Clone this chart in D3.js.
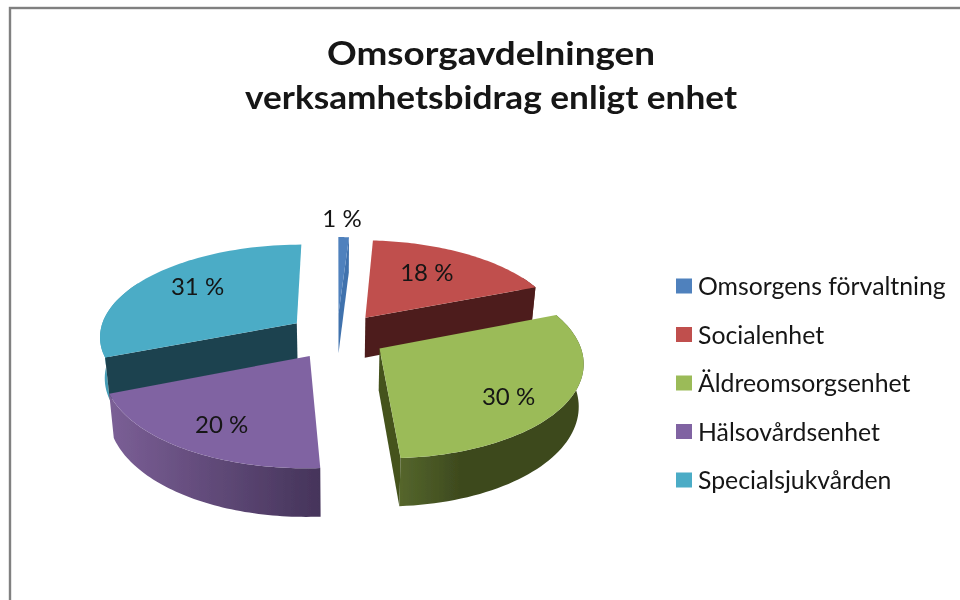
<!DOCTYPE html>
<html><head><meta charset="utf-8">
<script src="https://cdnjs.cloudflare.com/ajax/libs/d3/7.8.5/d3.min.js"></script>
<style>html,body{margin:0;padding:0;background:#fff}svg{display:block}text{font-family:Lato,"Open Sans",sans-serif;fill:#141414}</style>
</head><body><svg id="c" width="960" height="600"></svg>
<script>
const categories = ["Omsorgens förvaltning","Socialenhet","Äldreomsorgsenhet","Hälsovårdsenhet","Specialsjukvården"];
const values = [1,18,30,20,31];
const topColors = ["#4f81bd","#c0504d","#9bbb59","#8064a2","#4bacc6"];
const cutColors = ["#4172ad","#4d1f1c","#45531f","#453356","#1f4350"];
const wallStops = [["#3f70aa","#3f70aa"],["#6d2b28","#6d2b28"],["#55662c","#3c481d"],["#7b5f96","#45345a"],["#46a0b9","#3c8fa7"]];
const visibleCut = ["end","end","end",null,"start"];
const titleLines = ["Omsorgavdelningen","verksamhetsbidrag enligt enhet"];
const titleWidths = [328,492];
const labelRadius = [1.29,0.664,0.746,0.746,0.708];
const labelBearing = [1,32,127.9,211,308.9];

// Geometry of the tilted, exploded pie
const cx=337, cy=336, Rx=198, Ry=92, persp=0.13, explode=0.25, depth=41, taper=0.98;
const sx=d3.scaleLinear().domain([-1,1]).range([cx-Rx,cx+Rx]);
const sy=d3.scaleLinear().domain([-1,1]).range([cy+Ry,cy-Ry]);
const proj=(u,v)=>{const s=1/(1+persp*v);return {x:sx(u*s),y:sy(v*s),s};};
const line=d3.line().x(d=>d.x).y(d=>d.y);

const svg=d3.select("#c");
const defs=svg.append("defs");
const f=defs.append("filter").attr("id","soft").attr("filterUnits","userSpaceOnUse").attr("x",0).attr("y",0)
  .attr("width",960).attr("height",600);
f.append("feGaussianBlur").attr("stdDeviation",0.45);
const root=svg.append("g").attr("filter","url(#soft)");
root.append("rect").attr("width",960).attr("height",600).attr("fill","#fff");
root.append("rect").attr("x",10).attr("y",8).attr("width",1000).attr("height",1000).attr("fill","#fff").attr("stroke","#808080").attr("stroke-width",2.4);

const arcs=d3.pie().sort(null).value(d=>d)(values);
const point=(a,r,th)=>{const m=(a.startAngle+a.endAngle)/2;
  return proj(explode*Math.sin(m)+r*Math.sin(th),explode*Math.cos(m)+r*Math.cos(th));};
const down=p=>({x:cx+(p.x-cx)*taper,y:p.y+depth*p.s});

arcs.forEach((a,i)=>{
  const g=defs.append("linearGradient").attr("id","w"+i);
  const st=wallStops[i];
  g.append("stop").attr("offset",0).attr("stop-color",st[0]);
  g.append("stop").attr("offset",i==2?0.35:1).attr("stop-color",st[1]);
});

// back-to-front drawing order
[4,1,0,3,2].forEach(i=>{
  const a=arcs[i], g=root.append("g");
  const steps=d3.range(0,61).map(k=>a.startAngle+(a.endAngle-a.startAngle)*k/60);
  const rim=steps.map(t=>point(a,1,t));
  const frontRim=steps.filter(t=>Math.cos(t)<0.5).map(t=>point(a,1,t));
  const apex=point(a,0,0);
  if(frontRim.length>1){
    g.append("path").attr("d",line(frontRim.concat(frontRim.map(down).reverse()))+"Z").attr("fill",`url(#w${i})`);
  }
  if(visibleCut[i]){
    const c=visibleCut[i]==="start"?rim[0]:rim[60];
    g.append("path").attr("d",line([apex,c,down(c),down(apex)])+"Z").attr("fill",cutColors[i]);
  }
  g.append("path").attr("d",line([apex].concat(rim))+"Z").attr("fill",topColors[i]);
});

// value labels
arcs.forEach((a,i)=>{
  const p=point(a,labelRadius[i],labelBearing[i]*Math.PI/180);
  root.append("text").attr("x",p.x).attr("y",p.y).attr("text-anchor","middle").attr("dominant-baseline","central")
    .attr("font-size",24).text(values[i]+" %");
});

// title
titleLines.forEach((t,i)=>root.append("text").attr("x",491).attr("y",65+i*43.5).attr("text-anchor","middle")
  .attr("font-size",33).attr("font-weight",700).attr("textLength",titleWidths[i]).attr("lengthAdjust","spacingAndGlyphs").text(t));

// legend
const ly=d3.scalePoint().domain(categories).range([286,480]);
categories.forEach((c,i)=>{
  root.append("rect").attr("x",676).attr("y",ly(c)-7.5).attr("width",16).attr("height",15).attr("fill",topColors[i]);
  root.append("text").attr("x",698).attr("y",ly(c)+9).attr("font-size",24.8).text(c);
});
</script></body></html>
